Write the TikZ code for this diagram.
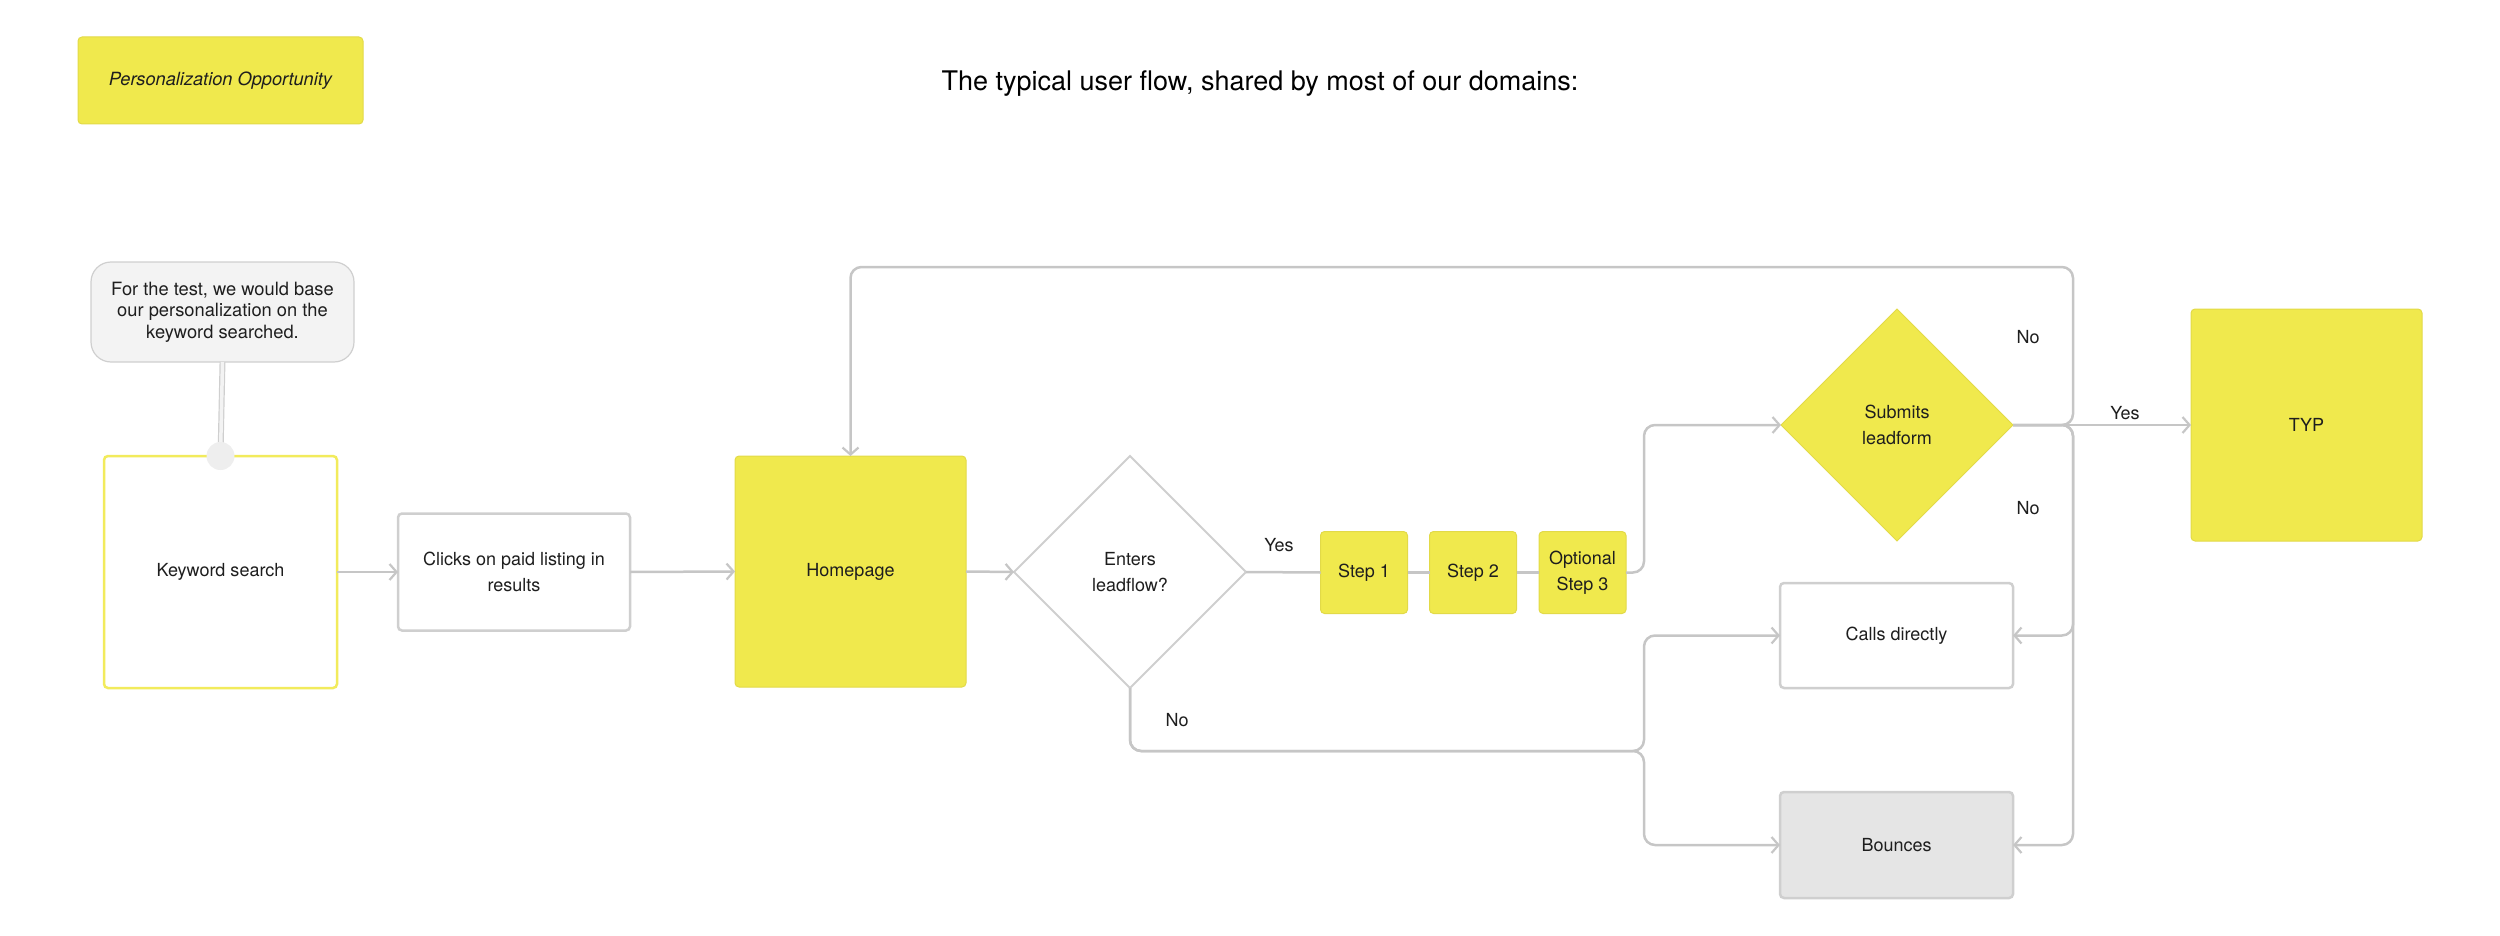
\documentclass[tikz,border=0pt]{standalone}
\usepackage{fontspec}
\setmainfont{TeX Gyre Heros}
\usetikzlibrary{arrows.meta,shapes.geometric}
\definecolor{ylw}{HTML}{F0E94D}
\definecolor{ylwline}{HTML}{E2DA48}
\definecolor{kwline}{HTML}{F2EB5C}
\definecolor{lin}{HTML}{C6C6C6}
\definecolor{boxline}{HTML}{CFCFCF}
\definecolor{txt}{HTML}{1E1E1E}
\definecolor{calloutfill}{HTML}{F3F3F3}
\definecolor{bouncefill}{HTML}{E5E5E5}
\tikzset{
  base/.style={inner sep=0pt, outer sep=0pt, align=center, text=txt,
    font=\fontsize{18}{26}\selectfont},
  ybox/.style={base, rectangle, rounded corners=4pt, fill=ylw, draw=ylwline, line width=1pt},
  wbox/.style={base, rectangle, rounded corners=4pt, fill=white, draw=boxline, line width=2.5pt},
  conn/.style={draw=lin, line width=2.5pt, rounded corners=11pt},
  arr/.style={conn, -{Straight Barb[length=7pt,width=16pt,line width=2.2pt]}},
  lbl/.style={base, anchor=center},
}
\begin{document}
\begin{tikzpicture}[x=1pt,y=-1pt]
\useasboundingbox (0,0) rectangle (2500,936);

% legend and title
\node[ybox, minimum width=285, minimum height=87,
  font=\fontsize{18.2}{22}\selectfont\itshape] (legend) at (220.5,80.5) {Personalization Opportunity};
\node[base, font=\fontsize{27}{32}\selectfont, text=black] (title) at (1260,84) {The typical user flow, shared by most of our domains:};

% nodes
\node[base, rectangle, rounded corners=20pt, fill=calloutfill, draw=boxline, line width=1.2pt,
  minimum width=263, minimum height=100, font=\fontsize{18.3}{21.5}\selectfont] (note) at (222.5,312)
  {For the test, we would base\\our personalization on the\\keyword searched.};
\node[base, rectangle, rounded corners=4pt, fill=white, draw=kwline, line width=2.5pt,
  minimum width=233, minimum height=232] (kw) at (220.5,572) {Keyword search};
\node[wbox, minimum width=232, minimum height=117] (clicks) at (514,572) {Clicks on paid listing in\\results};
\node[ybox, minimum width=231, minimum height=231] (home) at (850.5,571.5) {Homepage};
\node[base, diamond, aspect=1, fill=white, draw=boxline, line width=2pt,
  minimum width=232, minimum height=232] (enter) at (1130,572) {Enters\\leadflow?};
\node[ybox, minimum width=87, minimum height=82] (s1) at (1364,572.5) {Step 1};
\node[ybox, minimum width=87, minimum height=82] (s2) at (1473,572.5) {Step 2};
\node[ybox, minimum width=87, minimum height=82] (s3) at (1582.5,572.5) {Optional\\Step 3};
\node[base, diamond, aspect=1, fill=ylw, draw=ylwline, line width=1pt,
  minimum width=232, minimum height=232] (subm) at (1897,425) {Submits\\leadform};
\node[ybox, minimum width=231, minimum height=232] (typ) at (2306.5,425) {TYP};
\node[wbox, minimum width=233, minimum height=105] (calls) at (1896.5,635.5) {Calls directly};
\node[wbox, fill=bouncefill, minimum width=233, minimum height=106] (bounce) at (1896.5,845) {Bounces};

% junction coordinates
\coordinate (rj) at (2073,425);
\coordinate (lj) at (1644,751);
\coordinate (topy) at (0,267);

% connectors
\draw[draw=boxline, line width=1.2pt, double=calloutfill, double distance=3.5pt] (note.south) -- (kw.north);
\node[base, circle, fill=calloutfill!90!lin, minimum size=28pt] (dot) at (kw.north) {};

\draw[arr] (kw.east) -- (clicks.west);
\draw[arr] (clicks.east) -- (home.west);
\draw[arr] (home.east) -- (enter.west);
\draw[conn] (enter.east) -- (s1.west);
\draw[conn] (s1.east) -- (s2.west);
\draw[conn] (s2.east) -- (s3.west);
\draw[arr] (s3.east) -| (lj |- subm.west) -- (subm.west);
\draw[arr] (enter.south) |- (lj) |- (calls.west);
\draw[arr] (enter.south) |- (lj) |- (bounce.west);
\draw[arr] (subm.east) -- (typ.west);
\draw[arr] (subm.east) -- (rj) |- (home.north |- topy) -- (home.north);
\draw[arr] (subm.east) -- (rj) |- (calls.east);
\draw[arr] (subm.east) -- (rj) |- (bounce.east);

% labels
\node[lbl] (yes1) at (1279,545) {Yes};
\node[lbl] (yes2) at (2125,413) {Yes};
\node[lbl] (no1) at (2028,337) {No};
\node[lbl] (no2) at (2028,508) {No};
\node[lbl] (no3) at (1177,720) {No};
\end{tikzpicture}
\end{document}
